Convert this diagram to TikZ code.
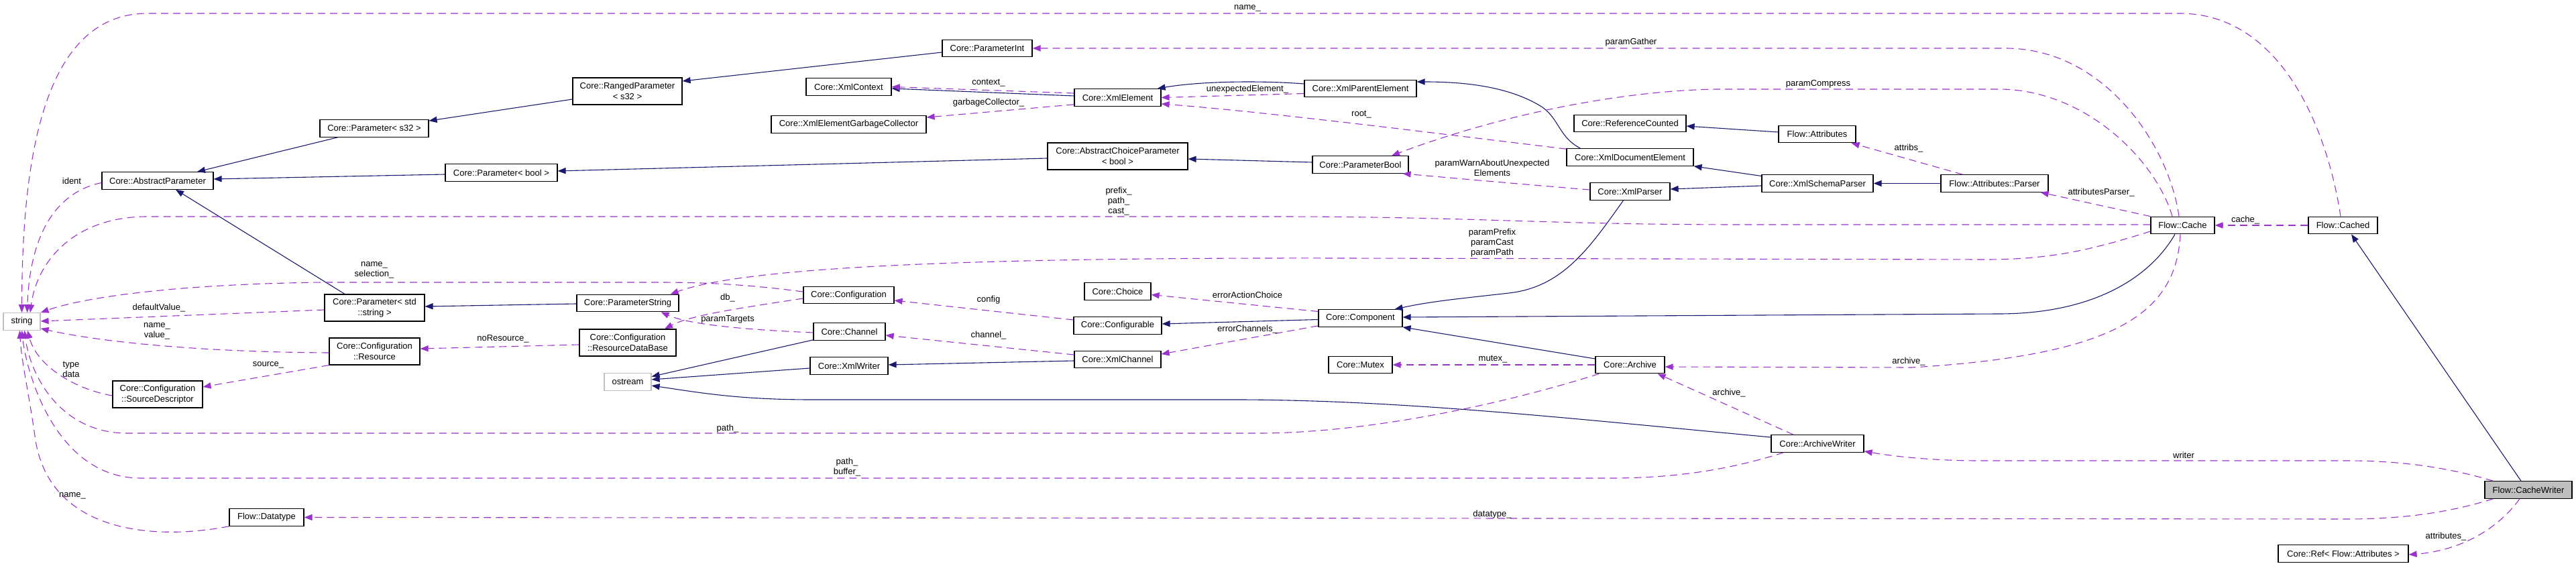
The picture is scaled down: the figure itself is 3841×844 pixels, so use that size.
\documentclass[tikz,border=0pt]{standalone}
\usepackage{fontspec}
\setmainfont{Liberation Sans}
\usetikzlibrary{arrows.meta,calc}
\definecolor{navyE}{RGB}{25,25,112}
\definecolor{purpE}{RGB}{154,50,205}
\definecolor{greyB}{RGB}{191,191,191}
\tikzset{
  clsS/.style ={draw=black, fill=white, line width=0.6pt, minimum width=#1*0.5pt, minimum height=12.75pt,
                inner xsep=1pt, inner ysep=2pt, align=center, font=\fontsize{6.5pt}{7.7pt}\selectfont},
  twoS/.style ={minimum height=20pt},
  extS/.style ={clsS=#1, draw=greyB},
  rootS/.style={clsS=#1, fill=greyB},
  inhS/.style ={navyE, line width=0.55pt, -{Triangle[length=6pt,width=4.6pt]}},
  memS/.style ={purpE, line width=0.55pt, dash pattern=on 5.5pt off 3.5pt, -{Triangle[length=6pt,width=4.6pt]}},
  lblS/.style ={inner sep=0pt, align=center, font=\fontsize{6.5pt}{7.5pt}\selectfont},
}
\begin{document}
\begin{tikzpicture}[x=0.5pt, y=-0.5pt]
  \useasboundingbox (0,0) rectangle (3841,844);
  % classes
  \node[extS=55]         (string)      at (32.5,479.5)  {string};
  \node[clsS=166]        (absparam)    at (235,269.5)   {Core::AbstractParameter};
  \node[clsS=162]        (params32)    at (558,191.5)   {Core::Parameter< s32 >};
  \node[clsS=163,twoS]   (ranged)      at (935.5,136)   {Core::RangedParameter\\< s32 >};
  \node[clsS=134]        (paramint)    at (1472,72)     {Core::ParameterInt};
  \node[clsS=127]        (xmlcontext)  at (1265.5,129.5){Core::XmlContext};
  \node[clsS=231]        (garbage)     at (1265.5,185.5){Core::XmlElementGarbageCollector};
  \node[clsS=129]        (xmlelement)  at (1666.5,145.5){Core::XmlElement};
  \node[clsS=167]        (parentel)    at (2028.5,132)  {Core::XmlParentElement};
  \node[clsS=167]        (paramboolT)  at (747.5,257.5) {Core::Parameter< bool >};
  \node[clsS=209,twoS]   (abschoice)   at (1666.5,233)  {Core::AbstractChoiceParameter\\< bool >};
  \node[clsS=143]        (parambool)   at (2028.5,245.5){Core::ParameterBool};
  \node[clsS=167]        (refcount)    at (2430.5,184)  {Core::ReferenceCounted};
  \node[clsS=189]        (docel)       at (2430.5,234.5){Core::XmlDocumentElement};
  \node[clsS=119]        (xmlparser)   at (2430.5,285.5){Core::XmlParser};
  \node[clsS=115]        (attributes)  at (2709.5,200)  {Flow::Attributes};
  \node[clsS=166]        (schema)      at (2710,273.5)  {Core::XmlSchemaParser};
  \node[clsS=160]        (attrparser)  at (2974,273.5)  {Flow::Attributes::Parser};
  \node[clsS=95]         (cache)       at (3254.5,336)  {Flow::Cache};
  \node[clsS=103]        (cached)      at (3493.5,336)  {Flow::Cached};
  \node[clsS=149,twoS]   (paramstd)    at (558.5,459)   {Core::Parameter< std\\::string >};
  \node[clsS=135,twoS]   (resource)    at (558.5,524)   {Core::Configuration\\::Resource};
  \node[clsS=134,twoS]   (sourcedesc)  at (235,588)     {Core::Configuration\\::SourceDescriptor};
  \node[clsS=111]        (datatype)    at (397.5,771.5) {Flow::Datatype};
  \node[clsS=152]        (paramstring) at (936,452)     {Core::ParameterString};
  \node[clsS=144,twoS]   (resdb)       at (936,511)     {Core::Configuration\\::ResourceDataBase};
  \node[extS=70]         (ostream)     at (936,569.5)   {ostream};
  \node[clsS=135]        (config)      at (1265.5,440)  {Core::Configuration};
  \node[clsS=107]        (channel)     at (1266.5,494.5){Core::Channel};
  \node[clsS=116]        (xmlwriter)   at (1266,545.5)  {Core::XmlWriter};
  \node[clsS=99]         (choice)      at (1666.5,434.5){Core::Choice};
  \node[clsS=131]        (configurable)at (1666.5,485.5){Core::Configurable};
  \node[clsS=129]        (xmlchannel)  at (1666.5,536)  {Core::XmlChannel};
  \node[clsS=125]        (component)   at (2028.5,474.5){Core::Component};
  \node[clsS=95]         (mutex)       at (2028.5,544)  {Core::Mutex};
  \node[clsS=103]        (archive)     at (2430.5,544)  {Core::Archive};
  \node[clsS=138]        (archwriter)  at (2710,661.5)  {Core::ArchiveWriter};
  \node[rootS=130]       (cachewriter) at (3770,730.5)  {Flow::CacheWriter};
  \node[clsS=194]        (ref)         at (3494,825.5)  {Core::Ref< Flow::Attributes >};
  % inheritance
  \draw[inhS] ($(params32.south west)+(27,0)$) -- ($(absparam.north)+(59,0)$);
  \draw[inhS] ($(paramboolT.west)+(0,2.5)$) -- ($(absparam.east)+(0,-2.5)$);
  \draw[inhS] ($(paramstd.north)+(-44.5,0)$) -- ($(absparam.south)+(27,0)$);
  \draw[inhS] ($(ranged.west)+(0,12)$) -- ($(params32.north east)+(0,2)$);
  \draw[inhS] ($(paramint.west)+(0,6)$) -- ($(ranged.east)+(0,-15)$);
  \draw[inhS] ($(abschoice.west)+(0,3)$) -- ($(paramboolT.east)+(0,-2.5)$);
  \draw[inhS] ($(parambool.west)+(0,-3.5)$) -- ($(abschoice.east)+(0,4)$);
  \draw[inhS] ($(paramstring.west)+(0,1)$) -- ($(paramstd.east)+(0,-2)$);
  \draw[inhS] ($(xmlelement.west)+(0,-2.5)$) -- ($(xmlcontext.east)+(0,2.5)$);
  \draw[inhS] ($(parentel.west)+(0,-7)$) .. controls (1880,120) and (1790,121) .. ($(xmlelement.north east)+(-6,0)$);
  \draw[inhS] ($(docel.north west)+(21,0)$) .. controls (2325,205) and (2325,178) .. (2300,160)
              .. controls (2250,128) and (2180,122) .. ($(parentel.east)+(0,-10)$);
  \draw[inhS] ($(schema.west)+(0,-11)$) -- (docel.south east);
  \draw[inhS] ($(schema.west)+(0,3.5)$) -- ($(xmlparser.east)+(0,-3.5)$);
  \draw[inhS] ($(attributes.west)+(0,-3)$) -- ($(refcount.east)+(0,4)$);
  \draw[inhS] (attrparser.west) -- (schema.east);
  \draw[inhS] ($(xmlparser.south)+(-10,0)$) .. controls (2370,370) and (2330,428) .. (2250,437)
              .. controls (2180,445) and (2135,449) .. ($(component.north east)+(-12,0)$);
  \draw[inhS] ($(cache.south)+(-11.5,0)$) .. controls (3205,415) and (3120,468) .. (2980,468) -- ($(component.east)+(0,-1.5)$);
  \draw[inhS] ($(archive.west)+(0,-9)$) -- (component.south east);
  \draw[inhS] ($(component.west)+(0,2)$) -- ($(configurable.east)+(0,-2.5)$);
  \draw[inhS] ($(xmlchannel.west)+(0,2)$) -- ($(xmlwriter.east)+(0,-1.5)$);
  \draw[inhS] ($(channel.south west)+(0,-1)$) -- ($(ostream.east)+(0,-8)$);
  \draw[inhS] ($(xmlwriter.west)+(0,3.5)$) -- ($(ostream.east)+(0,-3.5)$);
  \draw[inhS] ($(archwriter.west)+(0,-9.5)$) .. controls (2350,625) and (2100,597) .. (1850,596) -- (1210,596)
              .. controls (1100,596) and (1040,585) .. ($(ostream.east)+(0,5.5)$);
  \draw[inhS] ($(cachewriter.north)+(-11,0)$) -- ($(cached.south)+(12.5,0)$);
  % members
  \draw[memS] ($(cached.north)+(-3.5,0)$) .. controls (3470,190) and (3400,20) .. (3250,20) -- (220,20)
              .. controls (60,20) and (33,250) .. (string.north);
  \draw[memS] ($(cache.west)+(0,-1)$) -- (2600,335) .. controls (2300,335) and (2200,323) .. (1900,323) -- (220,323)
              .. controls (110,323) and (55,390) .. ($(string.north)+(12.5,0)$);
  \draw[memS] ($(absparam.west)+(0,3)$) .. controls (90,285) and (45,340) .. ($(string.north)+(8,0)$);
  \draw[memS] ($(config.west)+(0,-5)$) .. controls (1120,425) and (1060,421) .. (980,421) -- (480,421)
              .. controls (250,424) and (120,445) .. (string.north east);
  \draw[memS] ($(paramstd.west)+(0,3)$) -- ($(string.east)+(0,-0.5)$);
  \draw[memS] ($(resource.west)+(0,2)$) .. controls (300,525) and (150,510) .. ($(string.south east)+(0,-3)$);
  \draw[memS] (resource.south west) -- ($(sourcedesc.east)+(0,-11)$);
  \draw[memS] ($(sourcedesc.west)+(0,2)$) .. controls (110,580) and (55,545) .. ($(string.south)+(8.5,0)$);
  \draw[memS] ($(archive.south west)+(6,0)$) .. controls (2250,600) and (2050,645) .. (1880,646) -- (190,646)
              .. controls (90,646) and (45,560) .. ($(string.south)+(4,0)$);
  \draw[memS] ($(archwriter.south west)+(19,0)$) .. controls (2580,700) and (2500,713) .. (2400,713) -- (210,713)
              .. controls (85,713) and (40,560) .. (string.south);
  \draw[memS] (datatype.south west) .. controls (220,808) and (70,790) .. (52,650)
              .. controls (42,580) and (32,540) .. ($(string.south)+(-3,0)$);
  \draw[memS] ($(cachewriter.south west)+(13,0)$) .. controls (3650,765) and (3580,774) .. (3500,774) -- (datatype.east);
  \draw[memS] ($(cachewriter.north west)+(13,0)$) .. controls (3650,697) and (3580,687) .. (3500,687) -- (2950,687)
              .. controls (2880,687) and (2820,680) .. ($(archwriter.south east)+(0,-2)$);
  \draw[memS] ($(cachewriter.south)+(-13,0)$) .. controls (3720,795) and (3660,822) .. ($(ref.east)+(0,1.5)$);
  \draw[memS] (cached.west) -- (cache.east);
  \draw[memS] ($(cache.north)+(-5.5,0)$) .. controls (3235,220) and (3140,72) .. (2990,72) -- (paramint.east);
  \draw[memS] ($(cache.north)+(-15.5,0)$) .. controls (3215,240) and (3110,133) .. (2980,133) -- (2560,133)
              .. controls (2420,135) and (2240,170) .. ($(parambool.north)+(46.5,0)$);
  \draw[memS] (cache.north west) -- ($(attrparser.south east)+(-12,0)$);
  \draw[memS] ($(cache.west)+(0,9)$) .. controls (3120,372) and (3060,387) .. (2960,387) -- (2000,385)
              .. controls (1500,384) and (1120,395) .. ($(paramstring.north east)+(-13,0)$);
  \draw[memS] ($(cache.south)+(-3.5,0)$) .. controls (3245,470) and (3150,530) .. (2850,548) -- ($(archive.east)+(0,3)$);
  \draw[memS] ($(archwriter.north)+(-36,0)$) -- ($(archive.south east)+(-11,0)$);
  \draw[memS] (archive.west) -- (mutex.east);
  \draw[memS] ($(component.west)+(0,-10)$) -- ($(choice.east)+(0,5)$);
  \draw[memS] ($(component.south west)+(0,-2)$) -- ($(xmlchannel.east)+(0,-8)$);
  \draw[memS] ($(configurable.west)+(0,-8.5)$) -- ($(config.east)+(0,8)$);
  \draw[memS] ($(xmlchannel.west)+(0,-7)$) -- ($(channel.east)+(0,5.5)$);
  \draw[memS] ($(channel.west)+(0,1.5)$) .. controls (1120,492) and (1030,485) .. ($(paramstring.south east)+(-27,0)$);
  \draw[memS] ($(config.west)+(0,5)$) .. controls (1100,460) and (1030,470) .. ($(resdb.north)+(55,0)$);
  \draw[memS] ($(resdb.west)+(0,3)$) -- ($(resource.east)+(0,-4)$);
  \draw[memS] ($(xmlelement.west)+(0,-6.5)$) -- (xmlcontext.east);
  \draw[memS] ($(xmlelement.south west)+(0,-3)$) -- ($(garbage.east)+(0,-10.5)$);
  \draw[memS] ($(parentel.west)+(0,7.5)$) -- (xmlelement.east);
  \draw[memS] ($(docel.north west)+(0,1)$) .. controls (2150,200) and (1900,168) .. ($(xmlelement.south east)+(0,-4)$);
  \draw[memS] ($(xmlparser.west)+(0,-2.5)$) .. controls (2250,273) and (2160,265) .. ($(parambool.south east)+(-9,0)$);
  \draw[memS] ($(attrparser.north west)+(33,0)$) -- ($(attributes.south east)+(-7,0)$);
  % labels
  \node[lblS] (lbName)      at (1860,12)   {name\_};
  \node[lblS] (lbGather)    at (2432,63)   {paramGather};
  \node[lblS] (lbContext)   at (1474,124)  {context\_};
  \node[lblS] (lbGarbage)   at (1474,153)  {garbageCollector\_};
  \node[lblS] (lbUnexp)     at (1860,133)  {unexpectedElement\_};
  \node[lblS] (lbCompress)  at (2711,125)  {paramCompress};
  \node[lblS] (lbRoot)      at (2030,171)  {root\_};
  \node[lblS] (lbAttribs)   at (2846,221)  {attribs\_};
  \node[lblS] (lbWarn)      at (2225,250)  {paramWarnAboutUnexpected\\Elements};
  \node[lblS] (lbIdent)     at (107,270)   {ident};
  \node[lblS] (lbPrefix)    at (1668,300)  {prefix\_\\path\_\\cast\_};
  \node[lblS] (lbAttrPars)  at (3133,287)  {attributesParser\_};
  \node[lblS] (lbCache)     at (3348,328)  {cache\_};
  \node[lblS] (lbParamPre)  at (2225,362)  {paramPrefix\\paramCast\\paramPath};
  \node[lblS] (lbSelect)    at (558,403)   {name\_\\selection\_};
  \node[lblS] (lbErrAct)    at (1860,440)  {errorActionChoice};
  \node[lblS] (lbDb)        at (1085,444)  {db\_};
  \node[lblS] (lbConfig)    at (1474,447)  {config};
  \node[lblS] (lbDefault)   at (237,459)   {defaultValue\_};
  \node[lblS] (lbTargets)   at (1085,476)  {paramTargets};
  \node[lblS] (lbValue)     at (234,494)   {name\_\\value\_};
  \node[lblS] (lbErrChan)   at (1860,491)  {errorChannels\_};
  \node[lblS] (lbChannel)   at (1474,500)  {channel\_};
  \node[lblS] (lbNoRes)     at (750,505)   {noResource\_};
  \node[lblS] (lbMutex)     at (2226,536)  {mutex\_};
  \node[lblS] (lbArchive1)  at (2846,539)  {archive\_};
  \node[lblS] (lbTypeData)  at (106,551)   {type\\data};
  \node[lblS] (lbSource)    at (400,544)   {source\_};
  \node[lblS] (lbArchive2)  at (2578,586)  {archive\_};
  \node[lblS] (lbPath)      at (1085,639)  {path\_};
  \node[lblS] (lbWriter)    at (3256,679)  {writer};
  \node[lblS] (lbBuffer)    at (1263,697)  {path\_\\buffer\_};
  \node[lblS] (lbDtName)    at (108,739)   {name\_};
  \node[lblS] (lbDatatype)  at (2225,767)  {datatype\_};
  \node[lblS] (lbAttrs)     at (3647,800)  {attributes\_};
\end{tikzpicture}
\end{document}
